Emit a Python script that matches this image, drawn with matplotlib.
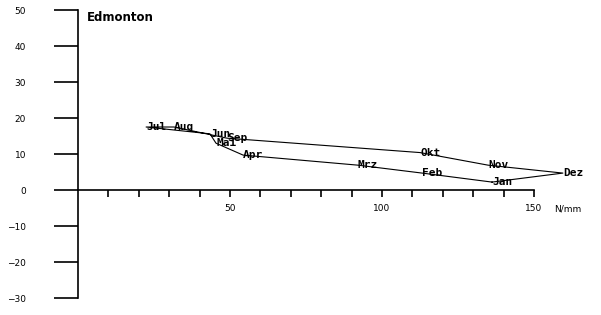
import matplotlib
matplotlib.use("Agg")
import matplotlib.pyplot as plt

# Edmonton: precipitation (N/mm) vs temperature, monthly
months = ["Jan", "Feb", "Mrz", "Apr", "Mai", "Jun", "Jul", "Aug", "Sep", "Okt", "Nov", "Dez"]
precip = [136.2, 113.2, 92.1, 54.3, 45.4, 43.4, 22.4, 31.6, 49.0, 112.5, 134.9, 159.5]
temp = [2.2, 4.7, 6.9, 9.7, 13.0, 15.6, 17.5, 17.5, 14.4, 10.4, 6.9, 4.7]

yticks = list(range(-30, 51, 10))
xticks = list(range(10, 151, 10))
xlabels = ["50" if t == 50 else "100" if t == 100 else "150" if t == 150 else "" for t in xticks]

fig = plt.figure(figsize=(6.01, 3.15), dpi=100)
ax = fig.add_axes([0, 0, 1, 1])
ax.set_xlim(-25.66, 172.04)
ax.set_ylim(-34.72, 52.78)

for s in ["top", "right"]:
    ax.spines[s].set_visible(False)
ax.spines["left"].set_position(("data", 0))
ax.spines["bottom"].set_position(("data", 0))
ax.spines["left"].set_bounds(-30, 50)
ax.spines["bottom"].set_bounds(0, 150)
for s in ["left", "bottom"]:
    ax.spines[s].set_linewidth(1.2)

ax.set_yticks(yticks)
ax.set_yticklabels([str(t).replace("-", "\u2212") for t in yticks])
ax.set_xticks(xticks)
ax.set_xticklabels(xlabels)
ax.tick_params(axis="y", direction="out", length=17.3, width=1.2, pad=20, labelsize=6.5)
ax.tick_params(axis="x", direction="out", length=5, width=1.2, pad=5, labelsize=6.5)

# closed loop through the months
ax.plot(precip + precip[:1], temp + temp[:1], color="black", lw=0.8)
for m, x, y in zip(months, precip, temp):
    ax.text(x, y, m, ha="left", va="center", family="DejaVu Sans Mono",
            fontweight="bold", fontsize=8)

ax.text(3, 48, "Edmonton", ha="left", va="center", fontweight="bold", fontsize=8.5)
ax.text(156.5, -5.2, "N/mm", ha="left", va="center", fontsize=6.5)

fig.savefig("out.png", dpi=100)
